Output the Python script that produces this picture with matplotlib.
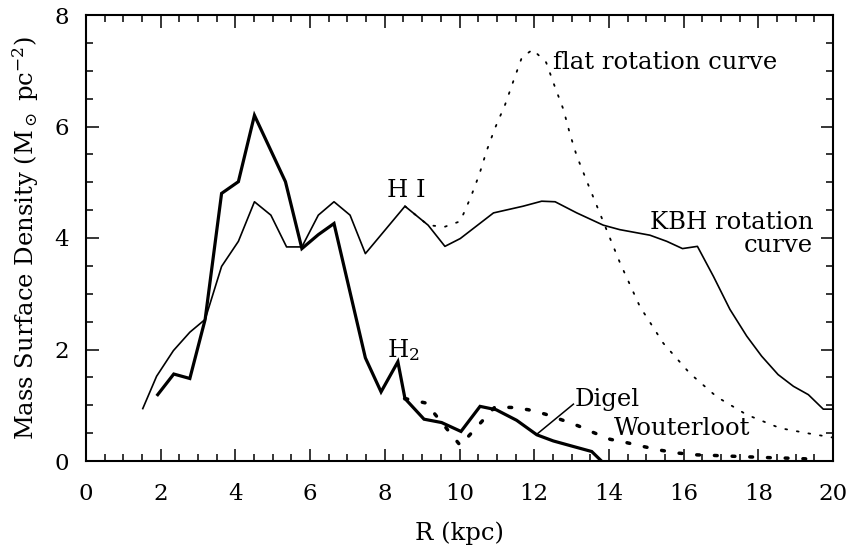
import numpy as np
import matplotlib
matplotlib.use("Agg")
import matplotlib.pyplot as plt
from matplotlib.ticker import MultipleLocator

plt.rcParams['font.family'] = ['DejaVu Serif']
plt.rcParams['mathtext.fontset'] = 'dejavuserif'

# H I surface density (solid thin, KBH rotation curve)
r_hi = [1.52, 1.89, 2.34, 2.78, 3.19, 3.63, 4.08, 4.51, 4.95, 5.37, 5.78, 6.22,
        6.64, 7.07, 7.48, 8.54, 9.16, 9.61, 10.02, 10.91, 11.70, 12.20, 12.56,
        13.14, 13.85, 14.29, 15.10, 15.55, 15.97, 16.37, 16.80, 17.24, 17.69,
        18.09, 18.53, 18.94, 19.34, 19.74, 20.0]
sd_hi = [0.94, 1.52, 1.98, 2.31, 2.54, 3.49, 3.94, 4.65, 4.41, 3.84, 3.84, 4.41,
         4.65, 4.41, 3.72, 4.57, 4.23, 3.85, 3.99, 4.45, 4.57, 4.66, 4.65,
         4.45, 4.23, 4.15, 4.05, 3.94, 3.81, 3.85, 3.31, 2.72, 2.24,
         1.88, 1.55, 1.34, 1.19, 0.93, 0.93]

# H I with flat rotation curve (dotted)
r_flat = [8.54, 9.16, 9.60, 10.02, 10.30, 10.53, 10.73, 10.95, 11.22, 11.44, 11.67,
          11.96, 12.32, 12.56, 12.78, 12.96, 13.14, 13.45, 13.76, 14.30, 14.83,
          15.46, 16.17, 16.89, 17.69, 18.58, 19.30, 20.0]
sd_flat = [4.57, 4.23, 4.20, 4.30, 4.73, 5.14, 5.57, 5.97, 6.39, 6.81, 7.24,
           7.38, 7.15, 6.70, 6.31, 5.86, 5.47, 4.95, 4.44, 3.55, 2.77,
           2.11, 1.57, 1.15, 0.83, 0.59, 0.50, 0.42]

# H2 (thick solid) inside the solar circle
r_h2 = [1.92, 2.35, 2.78, 3.19, 3.63, 4.08, 4.51, 5.34, 5.78, 6.22, 6.64, 7.48,
        7.90, 8.35, 8.54]
sd_h2 = [1.19, 1.56, 1.48, 2.54, 4.80, 5.01, 6.20, 5.01, 3.81, 4.06, 4.26, 1.85,
         1.24, 1.78, 1.12]

# outer H2, Digel (thick solid)
r_digel = [8.54, 9.05, 9.52, 10.04, 10.55, 10.98, 11.53, 12.07, 12.51, 13.05,
           13.54, 13.80]
sd_digel = [1.12, 0.75, 0.69, 0.53, 0.98, 0.92, 0.73, 0.47, 0.36, 0.26,
            0.17, 0.0]

# outer H2, Wouterloot (thick dotted)
r_wout = [8.54, 9.10, 10.02, 10.95, 11.40, 11.84, 12.30, 12.73, 13.18, 13.59,
          14.03, 14.47, 14.92, 15.41, 15.88, 16.36, 16.80, 17.51, 18.30, 18.85,
          19.60]
sd_wout = [1.12, 1.04, 0.28, 0.97, 0.96, 0.92, 0.84, 0.74, 0.63, 0.51,
           0.39, 0.33, 0.26, 0.19, 0.14, 0.11, 0.10, 0.08, 0.06, 0.05,
           0.03]

fig = plt.figure(figsize=(8.52, 5.53), dpi=100)
ax = fig.add_axes([86/852, 1-461/553, (833-86)/852, (461-15)/553])

ax.plot(r_flat, sd_flat, color='black', lw=1.3, linestyle=(0, (1, 5.5)),
        dash_capstyle='round')
ax.plot(r_wout, sd_wout, color='black', lw=2.5, linestyle=(0, (0.8, 4.3)),
        dash_capstyle='round')
ax.plot(r_hi, sd_hi, color='black', lw=1.2)
ax.plot(r_h2, sd_h2, color='black', lw=2.3, solid_joinstyle='miter')
ax.plot(r_digel, sd_digel, color='black', lw=2.3, solid_joinstyle='miter')

# labels on the curves
fs = 17.5
ax.text(8.07, 4.86, 'H I', fontsize=fs, va='center', ha='left')
ax.text(8.05, 1.99, r'H$_2$', fontsize=fs, va='center', ha='left')
ax.text(12.5, 7.14, 'flat rotation curve', fontsize=fs, va='center', ha='left')
ax.text(19.47, 4.28, 'KBH rotation', fontsize=fs, va='center', ha='right')
ax.text(19.47, 3.87, 'curve', fontsize=fs, va='center', ha='right')
ax.text(13.09, 1.11, 'Digel', fontsize=fs, va='center', ha='left')
ax.text(14.12, 0.59, 'Wouterloot', fontsize=fs, va='center', ha='left')
ax.plot([12.07, 13.05], [0.48, 1.02], color='black', lw=1.1)

ax.set_xlim(0, 20)
ax.set_ylim(0, 8)
ax.xaxis.set_major_locator(MultipleLocator(2))
ax.xaxis.set_minor_locator(MultipleLocator(0.5))
ax.yaxis.set_major_locator(MultipleLocator(2))
ax.yaxis.set_minor_locator(MultipleLocator(0.5))
ax.tick_params(which='both', direction='in', top=True, right=True, width=1.1,
               labelsize=16.5)
ax.tick_params(which='major', length=9)
ax.tick_params(which='minor', length=5)
ax.tick_params(axis='x', pad=16)
ax.tick_params(axis='y', pad=12)
for s in ax.spines.values():
    s.set_linewidth(1.5)

ax.set_xlabel('R (kpc)', fontsize=17.5, labelpad=12)
ax.set_ylabel(r'Mass Surface Density (M$_\odot$ pc$^{-2}$)', fontsize=17.5,
              labelpad=10)

fig.savefig('out.png', dpi=100)
